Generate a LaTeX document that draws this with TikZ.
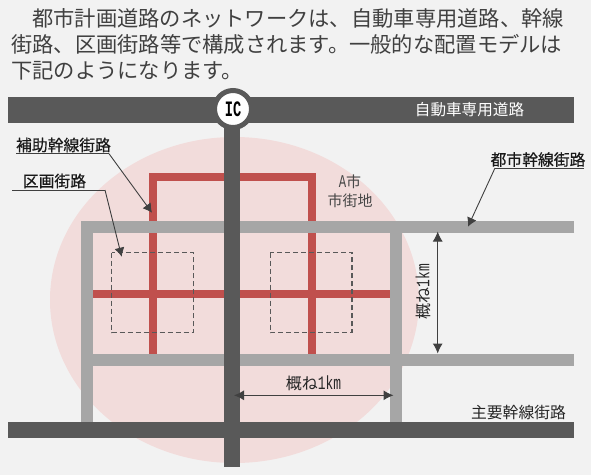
\documentclass[tikz,border=0pt]{standalone}
\usepackage{fontspec}
\setmainfont{Noto Sans CJK JP}
\newfontfamily\halffont[FakeStretch=0.68]{Liberation Mono}
\newfontfamily\icfont[FakeStretch=0.62]{Liberation Mono}
\newfontfamily\calloutfont[FakeBold=0.4]{Noto Sans CJK JP}
\usetikzlibrary{arrows.meta}
\definecolor{paper}{HTML}{F2F2F2}
\definecolor{cityarea}{HTML}{F2DCDB}
\definecolor{redroad}{HTML}{C0504D}
\definecolor{grayroad}{HTML}{A6A6A6}
\definecolor{darkroad}{HTML}{595959}
\definecolor{leader}{HTML}{404040}
\newcommand{\jp}[1]{\fontsize{#1}{#1}\selectfont}
\newcommand{\km}{{\halffont\jp{19}1km}}
\tikzset{
  bodyline/.style={anchor=west, inner sep=0pt, text=leader, font=\jp{21.27}},
  roadname/.style={inner sep=0pt, text=black!85, font=\jp{15.8}},
  callout/.style={inner sep=0pt, text=black!90, font=\jp{15.8}\calloutfont},
  aux/.style={line width=8pt, redroad},
  trunk/.style={line width=12pt, grayroad},
  motorway/.style={line width=16pt, darkroad},
  block/.style={dash pattern=on 5pt off 3pt, line width=1.2pt, darkroad},
  underline/.style={line width=1pt, leader},
  pointer/.style={line width=0.9pt, leader, -{Latex[length=9pt,width=10pt]}},
  span/.style={line width=1pt, leader, {Latex[length=10pt,width=10pt]}-{Latex[length=10pt,width=10pt]}}
}
\begin{document}
\begin{tikzpicture}[x=1pt,y=-1pt]
  \useasboundingbox (0,0) rectangle (591,475);
  \fill[paper] (0,0) rectangle (591,475);
  % Intro text
  \node[bodyline] (line1) at (32,18) {都市計画道路のネットワークは、自動車専用道路、幹線};
  \node[bodyline] (line2) at (11,44.5) {街路、区画街路等で構成されます。一般的な配置モデルは};
  \node[bodyline] (line3) at (11,70.5) {下記のようになります。};
  % City area
  \fill[cityarea] (234.5,300) ellipse [x radius=184.5pt, y radius=163pt];
  % Auxiliary roads
  \draw[aux] (153,354) -- (153,177) -- (312,177) -- (312,354);
  \draw[aux] (92,294) -- (390,294);
  % Blocks
  \draw[block] (111.7,252.7) rectangle (193.3,332.7);
  \draw[block] (270.3,252.7) rectangle (352,332.7);
  % Trunk roads
  \draw[trunk] (574,227.3) -- (87,227.3) -- (87,422);
  \draw[trunk] (92,359.7) -- (574,359.7);
  \draw[trunk] (395.5,233) -- (395.5,422);
  % Main roads
  \fill[darkroad] (8,97.3) rectangle (574,123.3);
  \draw[motorway] (8,430) -- (574,430);
  \draw[motorway] (231.7,109) -- (231.7,467);
  % Interchange
  \node[circle, draw=darkroad, fill=white, line width=5pt, minimum size=37pt, inner sep=0pt, outer sep=0pt,
    font=\jp{22}\icfont\bfseries] (ic) at (233,109) {IC};
  % Labels
  \node[inner sep=0pt, text=white, font=\jp{15.6}] (motorwayname) at (469.5,110) {自動車専用道路};
  \node[callout] (auxname) at (63.5,145) {補助幹線街路};
  \node[callout] (blockname) at (54.5,181) {区画街路};
  \node[callout] (trunkname) at (538,159.5) {都市幹線街路};
  \node[roadname] (mainname) at (518.5,412) {主要幹線街路};
  \node[inner sep=0pt, text=darkroad!80!black, font=\jp{15}, align=center] (cityname) at (350,191.5) {{\halffont\jp{18}A}市\\[4.5pt]市街地};
  % Leaders
  \coordinate (auxa) at (16,153.7);
  \coordinate (auxb) at (109,153.7);
  \coordinate (auxtip) at (152,212.7);
  \draw[underline] (auxa) -- (auxb);
  \draw[pointer] (auxb) -- (auxtip);
  \coordinate (blocka) at (12,190);
  \coordinate (blockb) at (105,190);
  \coordinate (blocktip) at (121.7,256.7);
  \draw[underline] (blocka) -- (blockb);
  \draw[pointer] (blockb) -- (blocktip);
  \coordinate (trunka) at (584,168);
  \coordinate (trunkb) at (495,168);
  \coordinate (trunktip) at (468,226.7);
  \draw[underline] (trunka) -- (trunkb);
  \draw[pointer] (trunkb) -- (trunktip);
  % Distances
  \coordinate (spantop) at (437.7,231.5);
  \coordinate (spanbottom) at (437.7,353.5);
  \coordinate (spanleft) at (234,395.3);
  \coordinate (spanright) at (393.5,395.3);
  \draw[span] (spantop) -- (spanbottom);
  \draw[span] (spanleft) -- (spanright);
  \node[inner sep=0pt, text=black!85, rotate=90, font=\jp{16}] (vdist) at (423,291.5) {概ね\km};
  \node[inner sep=0pt, text=black!85, font=\jp{16}] (hdist) at (313.5,383) {概ね\km};
\end{tikzpicture}
\end{document}
